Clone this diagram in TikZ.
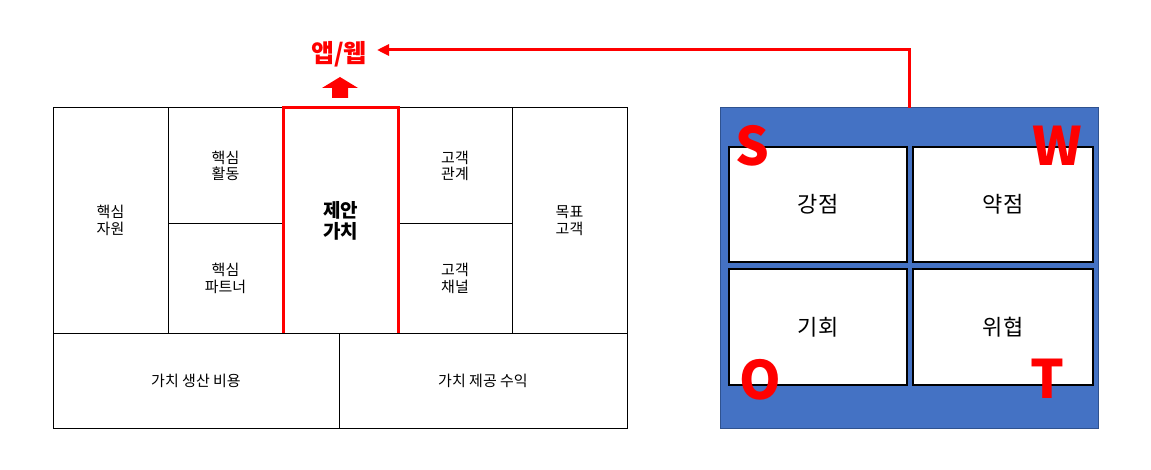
\documentclass[tikz,border=0pt]{standalone}
\usepackage{fontspec}
\setmainfont{Noto Sans CJK KR}
\usetikzlibrary{arrows.meta}
\definecolor{swotblue}{HTML}{4472C4}
\definecolor{swotedge}{HTML}{2F528F}
\definecolor{redc}{HTML}{FF0000}
\begin{document}
\begin{tikzpicture}[x=1pt,y=-1pt,
  cell/.style={draw=black, line width=1pt, inner sep=0pt, outer sep=0pt, anchor=north west, align=center, font=\fontsize{15}{16.5}\selectfont},
  quad/.style={draw=black, fill=white, line width=1.3pt, inner sep=0pt, outer sep=0pt, anchor=north west, align=center, font=\fontsize{22}{26}\selectfont},
  letter/.style={text=redc, inner sep=0pt, font=\fontsize{53}{60}\selectfont\bfseries},
  redline/.style={draw=redc, line width=3pt}]
\useasboundingbox (0,0) rectangle (1151,470);
% canvas
\node[cell, minimum width=115, minimum height=225] (res) at (53,108) {핵심\\자원};
\node[cell, minimum width=115, minimum height=116] (act) at (168,108) {핵심\\활동};
\node[cell, minimum width=115, minimum height=109] (part) at (168,224) {핵심\\파트너};
\node[cell, minimum width=115, minimum height=225, font=\fontsize{19}{21}\selectfont\bfseries] (val) at (283,108) {제안\\가치};
\node[cell, minimum width=114, minimum height=116] (rel) at (398,108) {고객\\관계};
\node[cell, minimum width=114, minimum height=109] (chan) at (398,224) {고객\\채널};
\node[cell, minimum width=115, minimum height=225] (seg) at (512,108) {목표\\고객};
\node[cell, minimum width=286, minimum height=95] (cost) at (53,333) {가치 생산 비용};
\node[cell, minimum width=288, minimum height=95] (rev) at (339,333) {가치 제공 수익};
\draw[redline] (val.south west) -- (val.north west) -- (val.north east) -- (val.south east);
% app/web
\node[text=redc, inner sep=0pt, font=\fontsize{25}{28}\selectfont\bfseries] (app) at (339,54) {앱/웹};
\fill[redc] (322,88) -- (340,77) -- (358,88) -- (348,88) -- (348,98) -- (332,98) -- (332,88) -- cycle;
% SWOT
\node[draw=swotedge, fill=swotblue, line width=1pt, inner sep=0pt, outer sep=0pt, anchor=north west, minimum width=378, minimum height=320] (swot) at (720,108) {};
\node[quad, minimum width=178, minimum height=115] (s) at (729,147) {강점};
\node[quad, minimum width=180, minimum height=115] (w) at (913,147) {약점};
\node[quad, minimum width=178, minimum height=116] (o) at (729,269) {기회};
\node[quad, minimum width=180, minimum height=116] (t) at (913,269) {위협};
\node[letter] (ls) at (752,146) {S};
\node[letter] (lw) at (1057,146) {W};
\node[letter] (lo) at (760,380) {O};
\node[letter] (lt) at (1047,379) {T};
\coordinate (tip) at (377,50);
\draw[redline, -{Triangle[length=12pt, width=11pt]}] (swot.north) |- (tip);
\end{tikzpicture}
\end{document}
